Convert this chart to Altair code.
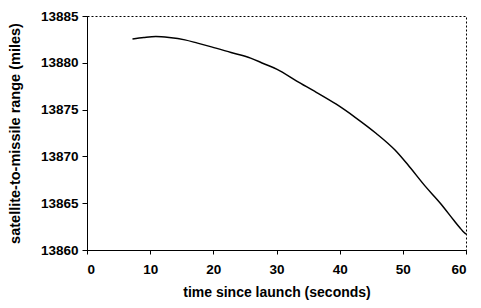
import altair as alt
import pandas as pd

time_s = [7.2, 9.0, 10.9, 13.0, 15.5, 17.5, 19.7, 22.8, 25.9, 28.0, 30.1, 33.2, 36.3, 39.4, 42.5, 45.7, 48.8, 50.8, 53.5, 56.0, 58.1, 59.0, 59.5, 60.0]
range_mi = [13882.55, 13882.7, 13882.8, 13882.7, 13882.45, 13882.1, 13881.7, 13881.1, 13880.5, 13879.9, 13879.3, 13878.05, 13876.85, 13875.6, 13874.15, 13872.5, 13870.65, 13869.1, 13866.85, 13864.95, 13863.15, 13862.4, 13862.0, 13861.7]

df = pd.DataFrame({"t": time_s, "r": range_mi})

font = "Liberation Sans"

chart = alt.Chart(df).mark_line(color="black", strokeWidth=1.5, interpolate="monotone").encode(
    x=alt.X("t:Q", scale=alt.Scale(domain=[0, 60], nice=False),
            axis=alt.Axis(values=[0, 10, 20, 30, 40, 50, 60], title="time since launch (seconds)",
                          grid=False, domainColor="black", tickColor="black", tickSize=4,
                          labelFont=font, labelFontWeight="bold", labelFontSize=13.5, labelColor="black",
                          labelPadding=8, titleFont=font, titleFontWeight="bold", titleFontSize=14,
                          titleColor="black", titleY=42, titleBaseline="middle")),
    y=alt.Y("r:Q", scale=alt.Scale(domain=[13860, 13885], nice=False, zero=False),
            axis=alt.Axis(values=[13860, 13865, 13870, 13875, 13880, 13885],
                          title="satellite-to-missile range (miles)", format="d",
                          grid=False, domainColor="black", tickColor="black", tickSize=5,
                          labelFont=font, labelFontWeight="bold", labelFontSize=13.5, labelColor="black",
                          labelPadding=4, titleFont=font, titleFontWeight="bold", titleFontSize=14.5,
                          titleColor="black", titleX=-72, titleBaseline="middle")),
).properties(
    width=379, height=234,
    autosize=alt.AutoSizeParams(type="none"),
    padding={"left": 79, "top": 8, "right": 7, "bottom": 50},
).configure_view(stroke="black", strokeDash=[2, 2], strokeWidth=1)

chart.save("out.html", embed_options={"renderer": "svg", "actions": False})
